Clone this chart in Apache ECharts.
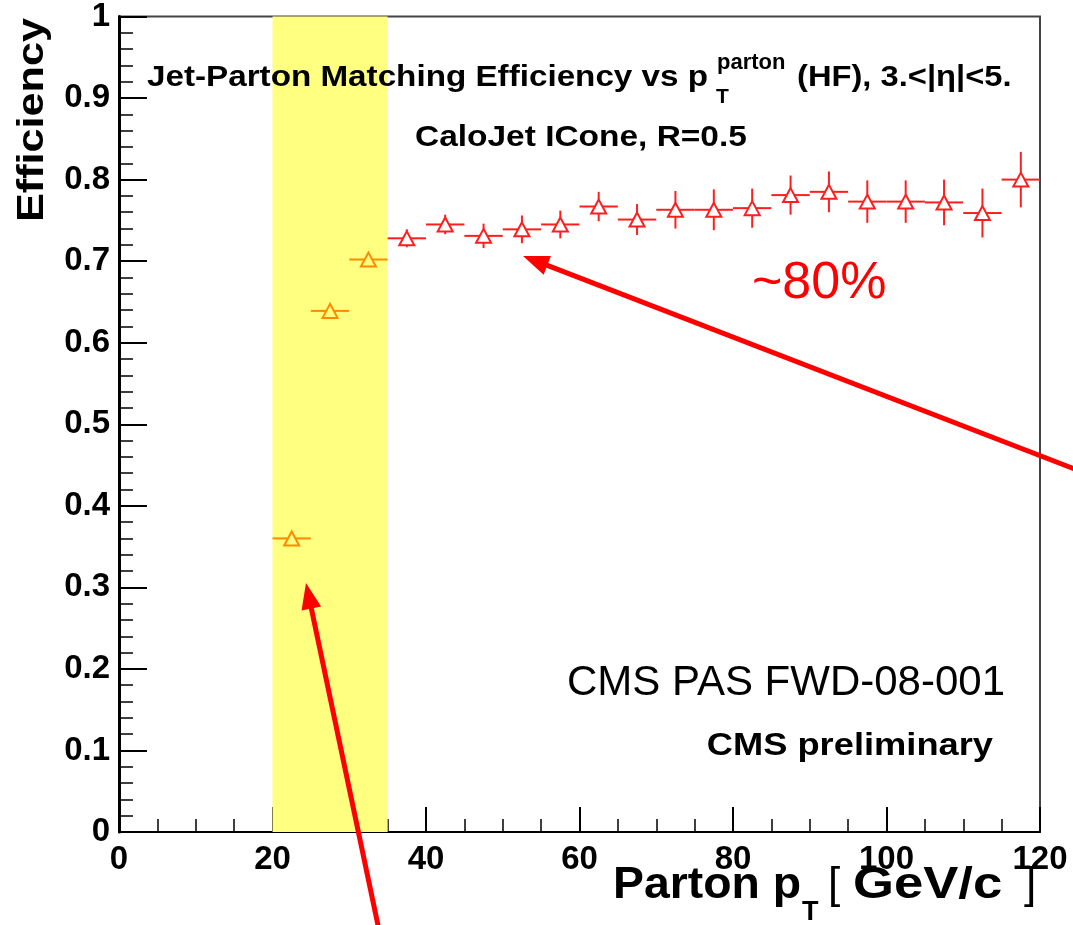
<!DOCTYPE html>
<html><head><meta charset="utf-8">
<script src="https://cdn.jsdelivr.net/npm/echarts@6/dist/echarts.min.js"></script>
<style>html,body{margin:0;padding:0;background:#fff}#c{width:1073px;height:925px}</style>
</head><body><div id="c"></div>
<script>
// ---- data ----
const binCenters = [22.5, 27.5, 32.5, 37.5, 42.5, 47.5, 52.5, 57.5, 62.5, 67.5, 72.5, 77.5, 82.5, 87.5, 92.5, 97.5, 102.5, 107.5, 112.5, 117.5];
const efficiency = [0.360, 0.639, 0.702, 0.728, 0.745, 0.731, 0.739, 0.745, 0.767, 0.751, 0.763, 0.763, 0.765, 0.781, 0.785, 0.773, 0.773, 0.772, 0.759, 0.800];
const effErrors  = [0.004, 0.004, 0.004, 0.011, 0.012, 0.015, 0.017, 0.017, 0.018, 0.019, 0.023, 0.025, 0.024, 0.024, 0.025, 0.026, 0.026, 0.028, 0.030, 0.034];
const binHalfWidth = 2.5;
const bandRange = [20, 35];
const xRange = [0, 120], xStep = 20;
const yRange = [0, 1], yStep = 0.1;

const FF = '"Liberation Sans", Arial, Helvetica, sans-serif';
const chart = echarts.init(document.getElementById('c'), null, {renderer: 'canvas'});

function renderItem(params, api) {
  const x = api.value(0), y = api.value(1), e = api.value(2);
  const c = api.coord([x, y]);
  const l = api.coord([x - binHalfWidth, y]), r = api.coord([x + binHalfWidth, y]);
  const t = api.coord([x, y + e]), b = api.coord([x, y - e]);
  const col = x < bandRange[1] ? '#ff8a00' : '#ff1e1e';
  const h = 7, w = 7.5;
  const st = {stroke: col, lineWidth: 2};
  const ch = [];
  ch.push({type: 'line', shape: {x1: l[0], y1: c[1], x2: c[0] - w / 2, y2: c[1]}, style: st});
  ch.push({type: 'line', shape: {x1: c[0] + w / 2, y1: c[1], x2: r[0], y2: c[1]}, style: st});
  if (t[1] < c[1] - h) ch.push({type: 'line', shape: {x1: c[0], y1: t[1], x2: c[0], y2: c[1] - h}, style: st});
  if (b[1] > c[1] + h) ch.push({type: 'line', shape: {x1: c[0], y1: c[1] + h, x2: c[0], y2: b[1]}, style: st});
  ch.push({type: 'polygon', shape: {points: [[c[0], c[1] - h], [c[0] - w, c[1] + h], [c[0] + w, c[1] + h]]},
           style: {stroke: col, lineWidth: 2, fill: 'none'}});
  return {type: 'group', children: ch};
}

function txt(text, x, y, size, weight, opt) {
  opt = opt || {};
  return {
    type: 'text', x: x, y: y, z: 100,
    rotation: opt.rotation || 0,
    scaleX: opt.scaleX || 1,
    style: {
      text: text,
      font: (weight || 'normal') + ' ' + size + 'px ' + FF,
      fill: opt.color || '#000',
      align: opt.align || 'left',
      verticalAlign: 'middle'
    }
  };
}

function arrow(tail, tip, color) {
  const dx = tip[0] - tail[0], dy = tip[1] - tail[1];
  const len = Math.sqrt(dx * dx + dy * dy);
  const ux = dx / len, uy = dy / len;
  const hl = 26, hw = 10;
  const bx = tip[0] - ux * hl, by = tip[1] - uy * hl;
  const px = -uy, py = ux;
  return [
    {type: 'line', z: 100, shape: {x1: tail[0], y1: tail[1], x2: bx + ux * 2, y2: by + uy * 2},
     style: {stroke: color, lineWidth: 5}},
    {type: 'polygon', z: 100, shape: {points: [tip, [bx + px * hw, by + py * hw], [bx - px * hw, by - py * hw]]},
     style: {fill: color}}
  ];
}

const graphics = [
  txt('Jet-Parton Matching Efficiency vs p', 147, 77.5, 30, 'bold', {scaleX: 1.107}),
  txt('T', 716, 97.5, 21, 'bold'),
  txt('parton', 717, 63, 22, 'bold'),
  txt('(HF), 3.<|η|<5.', 797, 77.5, 30, 'bold', {scaleX: 1.09}),
  txt('CaloJet ICone, R=0.5', 415, 137.5, 30, 'bold', {scaleX: 1.115}),
  txt('CMS PAS FWD-08-001', 1005, 683, 42, 'normal', {align: 'right'}),
  txt('CMS preliminary', 993, 746, 31, 'bold', {align: 'right', scaleX: 1.17}),
  txt('~80%', 752, 284, 52, 'normal', {color: '#ff0000'}),
  txt('Efficiency', 33, 120, 36, 'bold', {align: 'center', rotation: Math.PI / 2, scaleX: 1.2}),
  txt('Parton p', 613, 886, 45, 'bold', {scaleX: 1.03}),
  txt('T', 802, 913, 27, 'bold'),
  txt('[', 828, 886, 44, 'normal'),
  txt('GeV/c', 853, 886, 45, 'bold', {scaleX: 1.17}),
  txt(']', 1024, 886, 44, 'normal')
].concat(arrow([1090, 475], [523, 256], '#ff0000'))
 .concat(arrow([379, 930], [306, 583], '#ff0000'));

const option = {
  animation: false,
  backgroundColor: '#fff',
  grid: {left: 119, right: 33, top: 16, bottom: 93, show: true, borderColor: '#444', borderWidth: 2, backgroundColor: 'transparent'},
  xAxis: {
    type: 'value', min: xRange[0], max: xRange[1], interval: xStep,
    axisLine: {show: true, onZero: false, lineStyle: {color: '#000', width: 2}},
    axisTick: {show: true, inside: true, length: 25, lineStyle: {color: '#000', width: 2}},
    minorTick: {show: true, splitNumber: 4, length: 13, lineStyle: {color: '#000', width: 1.5}},
    splitLine: {show: false},
    axisLabel: {margin: 11, fontSize: 33, fontWeight: 'bold', fontFamily: FF, color: '#000'}
  },
  yAxis: {
    type: 'value', min: yRange[0], max: yRange[1], interval: yStep,
    axisLine: {show: true, onZero: false, lineStyle: {color: '#000', width: 3}},
    axisTick: {show: true, inside: true, length: 28, lineStyle: {color: '#000', width: 2}},
    minorTick: {show: true, splitNumber: 5, length: 14, lineStyle: {color: '#000', width: 1.5}},
    splitLine: {show: false},
    axisLabel: {margin: 9, fontSize: 33, fontWeight: 'bold', fontFamily: FF, color: '#000',
      formatter: function (v) { return (v === 0 || v === 1) ? String(v) : v.toFixed(1); }}
  },
  series: [
    {
      type: 'line', data: [], z: -1, silent: true,
      markArea: {silent: true, itemStyle: {color: '#ffff80'}, data: [[{xAxis: bandRange[0]}, {xAxis: bandRange[1]}]]}
    },
    {
      type: 'custom', z: 5, renderItem: renderItem, clip: false,
      encode: {x: 0, y: 1},
      data: binCenters.map((x, i) => [x, efficiency[i], effErrors[i]])
    }
  ],
  graphic: graphics
};
chart.setOption(option);
</script></body></html>
